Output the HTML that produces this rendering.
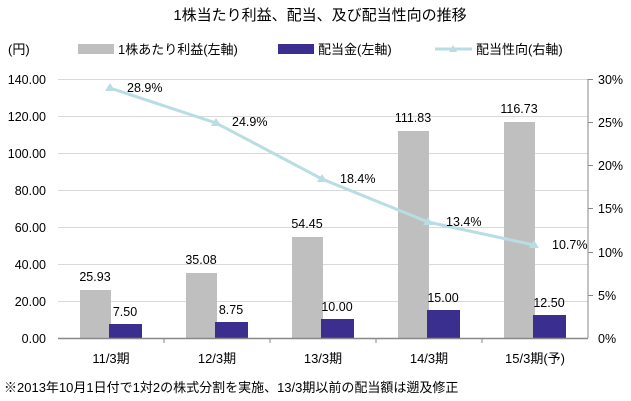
<!DOCTYPE html>
<html><head><meta charset="utf-8"><style>
body{margin:0;background:#fff;}
svg{display:block;font-family:"Liberation Sans","Noto Sans CJK JP",sans-serif;}
</style></head><body>
<svg width="631" height="401" viewBox="0 0 631 401" xmlns="http://www.w3.org/2000/svg">
<text x="320" y="20" font-size="15" text-anchor="middle" fill="#000">1株当たり利益、配当、及び配当性向の推移</text>
<text x="8" y="54" font-size="13">(円)</text>
<rect x="78" y="44" width="36" height="10" fill="#bfbfbf"/>
<text x="118" y="54" font-size="13">1株あたり利益(左軸)</text>
<rect x="278" y="44" width="36" height="10" fill="#3a2e8f"/>
<text x="318" y="54" font-size="13">配当金(左軸)</text>
<line x1="435" y1="49" x2="472" y2="49" stroke="#b8dde3" stroke-width="3"/>
<polygon points="453,45 457,52 449,52" fill="#b8dde3"/>
<text x="476" y="54" font-size="13">配当性向(右軸)</text>
<g stroke="#d9d9d9" stroke-width="1">
<line x1="58" y1="79.5" x2="588" y2="79.5"/>
<line x1="58" y1="116.5" x2="588" y2="116.5"/>
<line x1="58" y1="153.5" x2="588" y2="153.5"/>
<line x1="58" y1="190.5" x2="588" y2="190.5"/>
<line x1="58" y1="227.5" x2="588" y2="227.5"/>
<line x1="58" y1="264.5" x2="588" y2="264.5"/>
<line x1="58" y1="301.5" x2="588" y2="301.5"/>
</g>
<g font-size="12.5" text-anchor="end" fill="#000">
<text x="46" y="84">140.00</text><text x="46" y="121">120.00</text><text x="46" y="158">100.00</text>
<text x="46" y="195">80.00</text><text x="46" y="232">60.00</text><text x="46" y="269">40.00</text>
<text x="46" y="306">20.00</text><text x="46" y="343">0.00</text>
</g>
<g font-size="12.5" fill="#000">
<text x="598" y="84">30%</text><text x="598" y="127">25%</text><text x="598" y="170">20%</text>
<text x="598" y="213">15%</text><text x="598" y="257">10%</text><text x="598" y="300">5%</text><text x="598" y="343">0%</text>
</g>
<line x1="588" y1="79" x2="588" y2="338" stroke="#888"/>
<g stroke="#888"><line x1="588" y1="79.5" x2="593" y2="79.5"/><line x1="588" y1="122.5" x2="593" y2="122.5"/><line x1="588" y1="165.5" x2="593" y2="165.5"/><line x1="588" y1="208.5" x2="593" y2="208.5"/><line x1="588" y1="252.5" x2="593" y2="252.5"/><line x1="588" y1="295.5" x2="593" y2="295.5"/></g>
<g fill="#bfbfbf">
<rect x="80" y="290" width="31" height="48"/>
<rect x="186" y="273" width="31" height="65"/>
<rect x="292" y="237" width="31" height="101"/>
<rect x="398" y="131" width="31" height="207"/>
<rect x="504" y="122" width="31" height="216"/>
</g>
<g fill="#3a2e8f">
<rect x="109" y="324" width="33" height="14"/>
<rect x="215" y="322" width="33" height="16"/>
<rect x="321" y="319" width="33" height="19"/>
<rect x="427" y="310" width="33" height="28"/>
<rect x="533" y="315" width="33" height="23"/>
</g>
<line x1="58" y1="338.5" x2="588" y2="338.5" stroke="#888" stroke-width="1.5"/>
<g stroke="#888"><line x1="164" y1="338" x2="164" y2="343"/><line x1="270" y1="338" x2="270" y2="343"/><line x1="376" y1="338" x2="376" y2="343"/><line x1="482" y1="338" x2="482" y2="343"/></g>
<polyline points="110,88 216,123 322,179 428,222 534,245" fill="none" stroke="#b8dde3" stroke-width="3"/>
<g fill="#b8dde3">
<polygon points="110,83 115,91 105,91"/><polygon points="216,118 221,126 211,126"/><polygon points="322,174 327,182 317,182"/><polygon points="428,217 433,225 423,225"/><polygon points="534,240 539,248 529,248"/>
</g>
<g font-size="12.5" fill="#000">
<text x="127" y="92">28.9%</text><text x="232" y="126">24.9%</text><text x="340" y="183">18.4%</text><text x="446" y="226">13.4%</text><text x="552" y="249">10.7%</text>
<text x="95" y="281" text-anchor="middle">25.93</text><text x="201" y="264" text-anchor="middle">35.08</text>
<text x="307" y="228" text-anchor="middle">54.45</text><text x="413" y="122" text-anchor="middle">111.83</text><text x="519" y="113" text-anchor="middle">116.73</text>
<text x="125" y="316" text-anchor="middle">7.50</text><text x="231" y="314" text-anchor="middle">8.75</text>
<text x="337" y="311" text-anchor="middle">10.00</text><text x="443" y="302" text-anchor="middle">15.00</text><text x="549" y="307" text-anchor="middle">12.50</text>
</g>
<g font-size="13" text-anchor="middle" fill="#000">
<text x="111" y="363">11/3期</text><text x="217" y="363">12/3期</text><text x="323" y="363">13/3期</text><text x="429" y="363">14/3期</text><text x="535" y="363">15/3期(予)</text>
</g>
<text x="4" y="392" font-size="13">※2013年10月1日付で1対2の株式分割を実施、13/3期以前の配当額は遡及修正</text>
</svg>
</body></html>
